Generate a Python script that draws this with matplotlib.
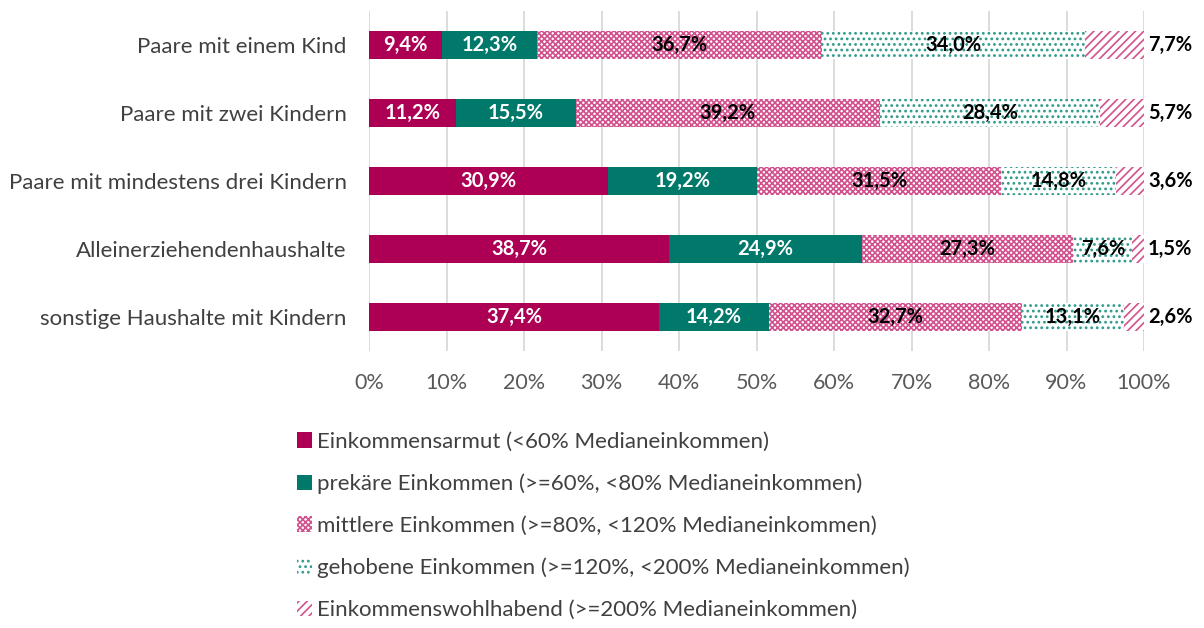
import numpy as np
import matplotlib.pyplot as plt

plt.rcParams['font.family'] = ['Lato', 'DejaVu Sans']
plt.rcParams['hatch.linewidth'] = 1.2

# data
categories = ['Paare mit einem Kind', 'Paare mit zwei Kindern',
              'Paare mit mindestens drei Kindern', 'Alleinerziehendenhaushalte',
              'sonstige Haushalte mit Kindern']
armut = [9.4, 11.2, 30.9, 38.7, 37.4]
prekaer = [12.3, 15.5, 19.2, 24.9, 14.2]
mittel = [36.7, 39.2, 31.5, 27.3, 32.7]
gehoben = [34.0, 28.4, 14.8, 7.6, 13.1]
wohlhabend = [7.7, 5.7, 3.6, 1.5, 2.6]
series_names = ['Einkommensarmut (<60% Medianeinkommen)',
                'prekäre Einkommen (>=60%, <80% Medianeinkommen)',
                'mittlere Einkommen (>=80%, <120% Medianeinkommen)',
                'gehobene Einkommen (>=120%, <200% Medianeinkommen)',
                'Einkommenswohlhabend (>=200% Medianeinkommen)']

crimson = '#AD0054'
teal = '#00796B'
pink = '#D2518D'
teal_l = '#2E9A8A'

styles = [
    dict(facecolor=crimson, edgecolor=crimson, hatch=None, txt='white'),
    dict(facecolor=teal, edgecolor=teal, hatch=None, txt='white'),
    dict(facecolor='white', edgecolor=pink, hatch='xxxxxx', txt='black'),
    dict(facecolor='white', edgecolor=teal_l, hatch='...', txt='black'),
    dict(facecolor='white', edgecolor=pink, hatch='////', txt='black'),
]

fig = plt.figure(figsize=(12.04, 6.28), dpi=100)
ax = fig.add_axes([369 / 1204, 1 - 351 / 628, 775 / 1204, 340 / 628])

y = np.arange(len(categories))
left = np.zeros(len(categories))
handles = []
for k, vals in enumerate([armut, prekaer, mittel, gehoben, wohlhabend]):
    st = styles[k]
    bars = ax.barh(y, vals, left=left, height=0.41, color=st['facecolor'],
                   edgecolor=st['edgecolor'], hatch=st['hatch'], linewidth=0,
                   label=series_names[k], zorder=2)
    handles.append(bars)
    for i, v in enumerate(vals):
        txt = f'{v:.1f}%'.replace('.', ',')
        if k == 4:
            ax.text(100.5, y[i], txt, ha='left', va='center', fontsize=14.5,
                    fontweight='bold', color='black')
        else:
            ax.text(left[i] + v / 2, y[i], txt, ha='center', va='center',
                    fontsize=14.5, fontweight='bold', color=st['txt'], zorder=3)
    left += np.array(vals)

ax.set_xlim(0, 100)
ax.set_ylim(len(categories) - 0.5, -0.5)
ax.set_yticks(y)
ax.set_yticklabels(categories, fontsize=16, color='#404040')
ax.set_xticks(np.arange(0, 101, 10))
ax.set_xticklabels([f'{t}%' for t in range(0, 101, 10)], fontsize=15.5, color='#595959')
ax.tick_params(length=0, axis='both')
ax.tick_params(axis='y', pad=16)
ax.tick_params(axis='x', pad=16)
ax.grid(axis='x', color='#D9D9D9', linewidth=1.3, zorder=0)
for s in ax.spines.values():
    s.set_visible(False)

fig.legend(handles=handles, loc='upper left', bbox_to_anchor=(288 / 1204, 1 - 423 / 628),
           frameon=False, fontsize=16, labelspacing=0.98, handlelength=0.7,
           handleheight=0.7, handletextpad=0.2, labelcolor='#404040', borderaxespad=0)

fig.savefig('out.png', dpi=100)
